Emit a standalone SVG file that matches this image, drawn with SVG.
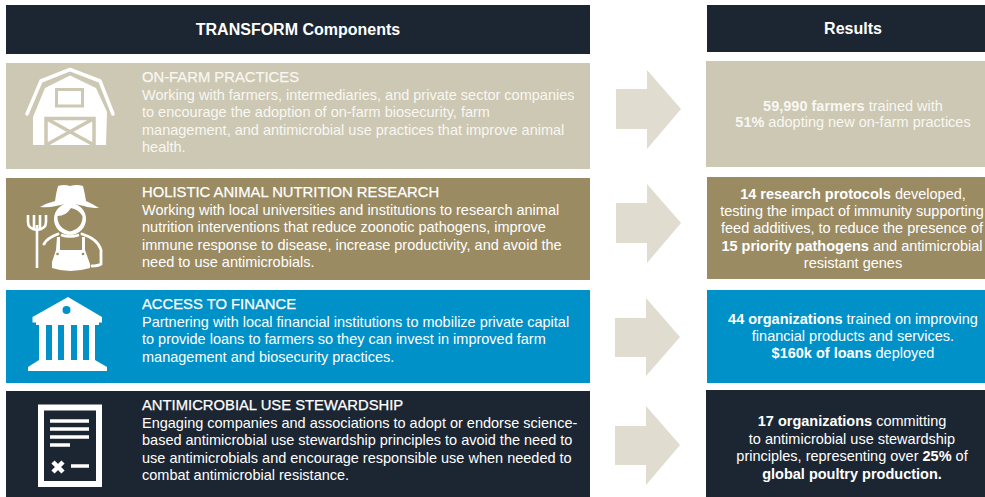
<svg xmlns="http://www.w3.org/2000/svg" width="985" height="497" viewBox="0 0 985 497">
<style>
text{font-family:"Liberation Sans",Arial,sans-serif;fill:#fff}
.h{font-size:16px;font-weight:bold;text-anchor:middle}
.t{font-size:14.5px}
.k{font-size:14.8px;stroke:#fff;stroke-width:.25}
.b{font-weight:bold}
.r{font-size:14.5px;text-anchor:middle}
.f{fill:#f8f7f2}
.k.f{stroke:#f8f7f2}
.tan{fill:#cdc8b3}.ol{fill:#9b8b63}.bl{fill:#0091c8}.nv{fill:#1c2632}
.ar{fill:#e0dcd0}
.w{fill:#fff}
</style>
<rect width="985" height="497" fill="#fff"/>
<g id="header-components"><rect class="nv" x="6" y="5" width="584" height="49"/><text class="h" x="298" y="35">TRANSFORM Components</text></g>
<g id="header-results"><rect class="nv" x="707" y="5" width="278" height="47"/><text class="h" x="853" y="34">Results</text></g>

<g id="component-farm">
<rect class="tan" x="6" y="63" width="584" height="106"/>
<path d="M27 114L41 81L70 69.500L100 81L113 114" fill="none" stroke="#fff" stroke-width="3.500" stroke-linecap="round" stroke-linejoin="round"/>
<path class="w" d="M33 145V117L45 88L70 75.500L96 88L107 112L106 145Z"/>
<rect x="56.500" y="89.500" width="26" height="16.500" fill="#fff" stroke="#cdc8b3" stroke-width="3"/>
<path d="M46 145V118.500H94V145M46 118.500L94 145M94 118.500L46 145" fill="none" stroke="#cdc8b3" stroke-width="3.500"/>
<text class="k f" x="142" y="82">ON-FARM PRACTICES</text>
<text class="t f" x="142" y="100">Working with farmers, intermediaries, and private sector companies</text>
<text class="t f" x="142" y="117">to encourage the adoption of on-farm biosecurity, farm</text>
<text class="t f" x="142" y="135">management, and antimicrobial use practices that improve animal</text>
<text class="t f" x="142" y="152">health.</text>
</g>

<g id="component-nutrition">
<rect class="ol" x="6" y="178" width="584" height="102"/>
<path class="w" d="M58 186Q64 184 70 186Q77 184 83 186Q85 194 86 201Q93 204 99 208Q90 208 84 206Q70 202 56 206Q48 208 40 207Q47 203 55 201Q56 193 58 186Z"/>
<ellipse class="w" cx="70" cy="219" rx="16" ry="16"/>
<path class="ol" d="M57.500 216Q66 216 71 208Q78 209 82.500 216Q83 228 70 231.500Q57 228 57.500 216Z"/>
<path d="M61 235Q70 238 79 235" fill="none" stroke="#fff" stroke-width="2.500"/>
<path d="M58 234Q47 238 44 244M82 234Q98 239 101 250V264Q98 266 92 266" fill="none" stroke="#fff" stroke-width="2.800" stroke-linecap="round"/>
<path class="w" d="M57 237H60V250H82V237H85V250L90 264V268Q70 274 52 268V262L56 250Z"/>
<circle cx="57.500" cy="254" r="1.300" fill="#9b8b63"/><circle cx="83" cy="254" r="1.300" fill="#9b8b63"/>
<path d="M37 225V268M28 215V222Q28 229 37 230Q46 229 46 222V215M34 215V230M40 215V230" fill="none" stroke="#fff" stroke-width="2.600"/>
<text class="k" x="142" y="197">HOLISTIC ANIMAL NUTRITION RESEARCH</text>
<text class="t" x="142" y="215">Working with local universities and institutions to research animal</text>
<text class="t" x="142" y="232">nutrition interventions that reduce zoonotic pathogens, improve</text>
<text class="t" x="142" y="250">immune response to disease, increase productivity, and avoid the</text>
<text class="t" x="142" y="267">need to use antimicrobials.</text>
</g>

<g id="component-finance">
<rect class="bl" x="6" y="290" width="584" height="93"/>
<path class="w" d="M68 297L102 317V322.500H99V325H36V322.500H32.500V317Z"/>
<circle cx="66.500" cy="310" r="4" fill="#0091c8"/>
<path class="w" d="M39 324H46V360H39ZM52 324H58V360H52ZM64 324H71V360H64ZM77 324H83V360H77ZM89 324H95V360H89Z"/>
<path class="w" d="M39 360H95L107 367V371H28V367Z"/>
<text class="k" x="142" y="309">ACCESS TO FINANCE</text>
<text class="t" x="142" y="327">Partnering with local financial institutions to mobilize private capital</text>
<text class="t" x="142" y="344">to provide loans to farmers so they can invest in improved farm</text>
<text class="t" x="142" y="362">management and biosecurity practices.</text>
</g>

<g id="component-stewardship">
<rect class="nv" x="6" y="391" width="584" height="106"/>
<rect x="41" y="407.500" width="58" height="76.500" fill="none" stroke="#fff" stroke-width="6"/>
<path d="M50 421H89M50 429H89M50 437H89M50 445H70M71 466H89" fill="none" stroke="#fff" stroke-width="3.500"/>
<path d="M53 462L63 472M63 462L53 472" fill="none" stroke="#fff" stroke-width="4.500"/>
<text class="k" x="142" y="410">ANTIMICROBIAL USE STEWARDSHIP</text>
<text class="t" x="142" y="428">Engaging companies and associations to adopt or endorse science-</text>
<text class="t" x="142" y="445">based antimicrobial use stewardship principles to avoid the need to</text>
<text class="t" x="142" y="463">use antimicrobials and encourage responsible use when needed to</text>
<text class="t" x="142" y="480">combat antimicrobial resistance.</text>
</g>

<g id="connectors">
<path class="ar" d="M616 89H647V70L681 109L647 149V129H616Z"/>
<path class="ar" d="M616 203H647V184L681 223L647 263V243H616Z"/>
<path class="ar" d="M615 318H646V298L680 337L646 376V357H615Z"/>
<path class="ar" d="M615 426H646V406L680 445L646 485V465H615Z"/>
</g>

<g id="result-farm">
<rect class="tan" x="706" y="61" width="279" height="106"/>
<text class="r f" x="853" y="111"><tspan class="b f">59,990 farmers</tspan> trained with</text>
<text class="r f" x="853" y="127"><tspan class="b f">51%</tspan> adopting new on-farm practices</text>
</g>
<g id="result-nutrition">
<rect class="ol" x="707" y="177" width="278" height="102"/>
<text class="r" x="853" y="199"><tspan class="b">14 research protocols</tspan> developed,</text>
<text class="r" x="852" y="216">testing the impact of immunity supporting</text>
<text class="r" x="852" y="233">feed additives, to reduce the presence of</text>
<text class="r" x="852" y="251"><tspan class="b">15 priority pathogens</tspan> and antimicrobial</text>
<text class="r" x="853" y="268">resistant genes</text>
</g>
<g id="result-finance">
<rect class="bl" x="707" y="290" width="278" height="93"/>
<text class="r" x="853" y="324"><tspan class="b">44 organizations</tspan> trained on improving</text>
<text class="r" x="853" y="341">financial products and services.</text>
<text class="r" x="853" y="358"><tspan class="b">$160k of loans</tspan> deployed</text>
</g>
<g id="result-stewardship">
<rect class="nv" x="706" y="390" width="279" height="107"/>
<text class="r" x="852" y="426"><tspan class="b">17 organizations</tspan> committing</text>
<text class="r" x="852" y="444">to antimicrobial use stewardship</text>
<text class="r" x="852" y="461">principles, representing over <tspan class="b">25%</tspan> of</text>
<text class="r b" x="852" y="479">global poultry production.</text>
</g>
</svg>
